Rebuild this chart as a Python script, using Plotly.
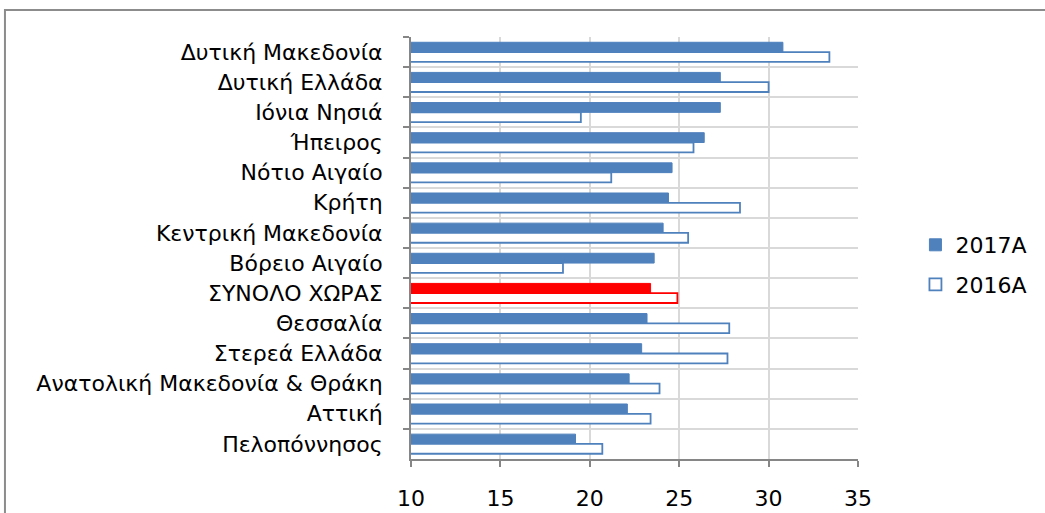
import plotly.graph_objects as go

regions = [
    "Δυτική Μακεδονία", "Δυτική Ελλάδα", "Ιόνια Νησιά", "Ήπειρος", "Νότιο Αιγαίο",
    "Κρήτη", "Κεντρική Μακεδονία", "Βόρειο Αιγαίο", "ΣΥΝΟΛΟ ΧΩΡΑΣ", "Θεσσαλία",
    "Στερεά Ελλάδα", "Ανατολική Μακεδονία & Θράκη", "Αττική", "Πελοπόννησος",
]
values_2017 = [30.8, 27.3, 27.3, 26.4, 24.6, 24.4, 24.1, 23.6, 23.4, 23.2, 22.9, 22.2, 22.1, 19.2]
values_2016 = [33.4, 30.0, 19.5, 25.8, 21.2, 28.4, 25.5, 18.5, 24.9, 27.8, 27.7, 23.9, 23.4, 20.7]
x_ticks = [10, 15, 20, 25, 30, 35]

BLUE = "#4f81bd"
RED = "#ff0000"
total_label = "ΣΥΝΟΛΟ ΧΩΡΑΣ"

fill_2017 = [RED if r == total_label else BLUE for r in regions]
line_2016 = [RED if r == total_label else BLUE for r in regions]

FONT = "DejaVu Sans"
FS = 22

fig = go.Figure()
fig.add_trace(go.Bar(
    y=regions, x=values_2017, orientation="h", name="2017A",
    marker=dict(color=fill_2017, line=dict(color=fill_2017, width=1)),
    legendgroup="a",
))
fig.add_trace(go.Bar(
    y=regions, x=values_2016, orientation="h", name="2016A",
    marker=dict(color="white", line=dict(color=line_2016, width=1.8)),
    legendgroup="b",
))

# plot area in pixels
L, R, T, B = 411, 858.5, 37, 459
W, H = 1045, 513

def px_x(p):
    return (p - L) / (R - L)

def px_y(p):
    return (B - p) / (B - T)

fig.add_shape(type="rect", xref="paper", yref="paper",
              x0=px_x(4.5), x1=px_x(1200), y0=px_y(600), y1=px_y(10),
              line=dict(color="#8c8c8c", width=2), fillcolor="rgba(0,0,0,0)", layer="below")

fig.update_layout(
    width=W, height=H, autosize=False,
    margin=dict(l=L, r=W - R, t=T, b=H - B, pad=0, autoexpand=False),
    barmode="group", bargap=0.35, bargroupgap=0,
    plot_bgcolor="white", paper_bgcolor="white",
    font=dict(family=FONT, size=FS, color="#000000"),
    legend=dict(x=px_x(916), y=px_y(265), xanchor="left", yanchor="middle",
                font=dict(size=FS), tracegroupgap=8, bgcolor="rgba(0,0,0,0)"),
)
fig.update_xaxes(
    range=[10, 35], tickvals=x_ticks, ticktext=[str(v) for v in x_ticks],
    showgrid=True, gridcolor="#d9d9d9", gridwidth=2,
    showline=True, linecolor="#868686", linewidth=2,
    ticks="outside", ticklen=6, tickcolor="#868686", tickwidth=2,
    ticklabelstandoff=13, zeroline=False, automargin=False,
    tickfont=dict(size=FS, family=FONT),
)
fig.update_yaxes(
    type="category", autorange="reversed", tickson="boundaries",
    showgrid=True, gridcolor="#d9d9d9", gridwidth=2,
    showline=True, linecolor="#868686", linewidth=2, mirror=False,
    ticks="outside", ticklen=6, tickcolor="#868686", tickwidth=2,
    ticklabelstandoff=22, automargin=False,
    tickfont=dict(size=FS, family=FONT),
)

fig.write_html(
    "out.html",
    config={"displayModeBar": False},
    post_script="document.body.style.margin='0';document.body.style.overflow='hidden';",
)
